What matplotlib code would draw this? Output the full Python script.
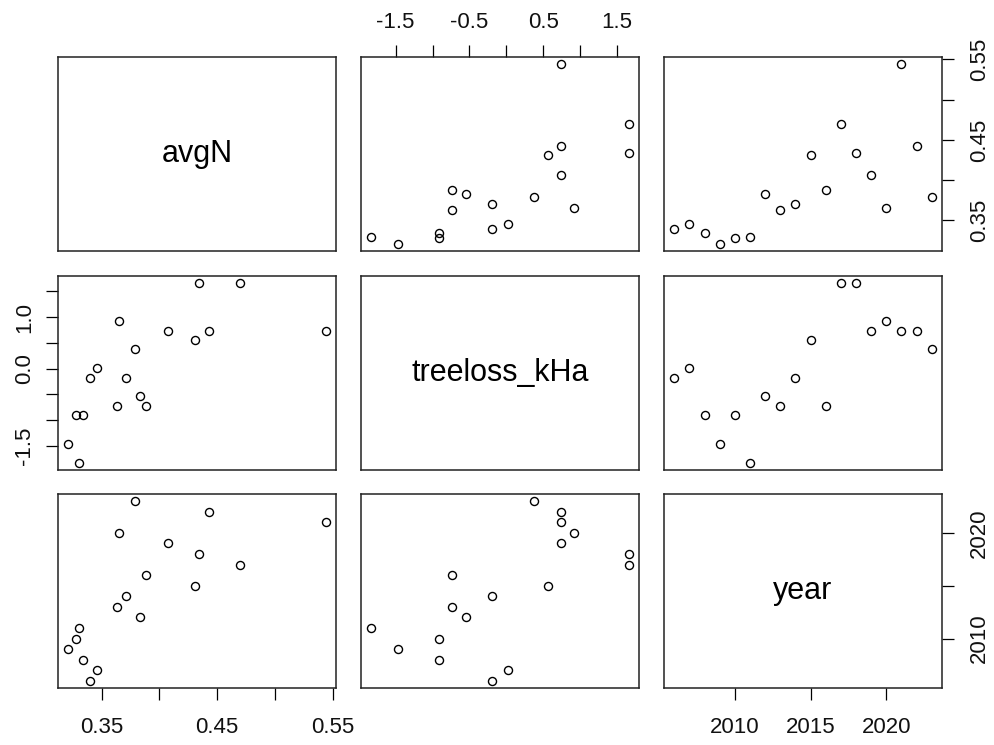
import matplotlib
matplotlib.use("Agg")
import matplotlib.pyplot as plt

plt.rcParams['font.family'] = ['Liberation Sans', 'DejaVu Sans']

names = ["avgN", "treeloss_kHa", "year"]
year = [2006, 2007, 2008, 2009, 2010, 2011, 2012, 2013, 2014,
        2015, 2016, 2017, 2018, 2019, 2020, 2021, 2022, 2023]
avgN = [0.340, 0.346, 0.334, 0.321, 0.328, 0.330, 0.383, 0.363, 0.371,
        0.431, 0.388, 0.470, 0.434, 0.407, 0.365, 0.544, 0.443, 0.379]
treeloss = [-0.19, 0.02, -0.91, -1.47, -0.91, -1.83, -0.54, -0.73, -0.19,
            0.56, -0.73, 1.66, 1.66, 0.74, 0.92, 0.74, 0.74, 0.38]

# axis ticks and which of them carry a label
x_ticks = {0: [0.35, 0.40, 0.45, 0.50, 0.55],
           1: [-1.5, -1.0, -0.5, 0.0, 0.5, 1.0, 1.5],
           2: [2010, 2015, 2020]}
x_labels = {0: ["0.35", "", "0.45", "", "0.55"],
            1: ["-1.5", "", "-0.5", "", "0.5", "", "1.5"],
            2: ["2010", "2015", "2020"]}
y_labels = {0: ["0.35", "", "0.45", "", "0.55"],
            1: ["-1.5", "", "", "0.0", "", "1.0", ""],
            2: ["2010", "", "2020"]}

cols = [avgN, treeloss, year]


def padded(v):
    lo, hi = min(v), max(v)
    d = (hi - lo) * 0.04
    return lo - d, hi + d


W, H = 995, 745
fig = plt.figure(figsize=(W / 100, H / 100), dpi=100)

left_px = [58, 361, 664]
top_px = [57, 276, 494]
pw, ph = 278, 194

tick_kw = dict(length=8.6, width=0.9, labelsize=16, colors="black",
               labelcolor="#111111")

for i in range(3):        # row
    for j in range(3):    # column
        ax = fig.add_axes([left_px[j] / W, 1 - (top_px[i] + ph) / H, pw / W, ph / H])
        ax.set_xlim(padded(cols[j]))
        ax.set_ylim(padded(cols[i]))
        for s in ax.spines.values():
            s.set_linewidth(1.1)
            s.set_color("#222222")
        ax.set_xticks([])
        ax.set_yticks([])
        if i == j:
            ax.text(0.5, 0.5, names[i], transform=ax.transAxes,
                    ha="center", va="center", fontsize=22)
        else:
            ax.plot(cols[j], cols[i], "o", mfc="none", mec="black",
                    ms=5.8, mew=1.0, ls="none")

        # outer axes, R pairs style (alternating sides)
        if i == 2 and j in (0, 2):
            ax.set_xticks(x_ticks[j])
            ax.set_xticklabels(x_labels[j])
            ax.tick_params(axis="x", bottom=True, labelbottom=True, pad=12, **tick_kw)
        if i == 0 and j == 1:
            ax.set_xticks(x_ticks[j])
            ax.set_xticklabels(x_labels[j])
            ax.tick_params(axis="x", top=True, labeltop=True, bottom=False,
                           labelbottom=False, pad=8.5, **tick_kw)
        if j == 2 and i in (0, 2):
            ax.set_yticks(x_ticks[i])
            ax.set_yticklabels(y_labels[i], rotation=90, va="center")
            ax.tick_params(axis="y", right=True, labelright=True, left=False,
                           labelleft=False, pad=11, **tick_kw)
        if j == 0 and i == 1:
            ax.set_yticks(x_ticks[i])
            ax.set_yticklabels(y_labels[i], rotation=90, va="center")
            ax.tick_params(axis="y", left=True, labelleft=True, pad=8, **tick_kw)

fig.savefig("out.png", dpi=100)
